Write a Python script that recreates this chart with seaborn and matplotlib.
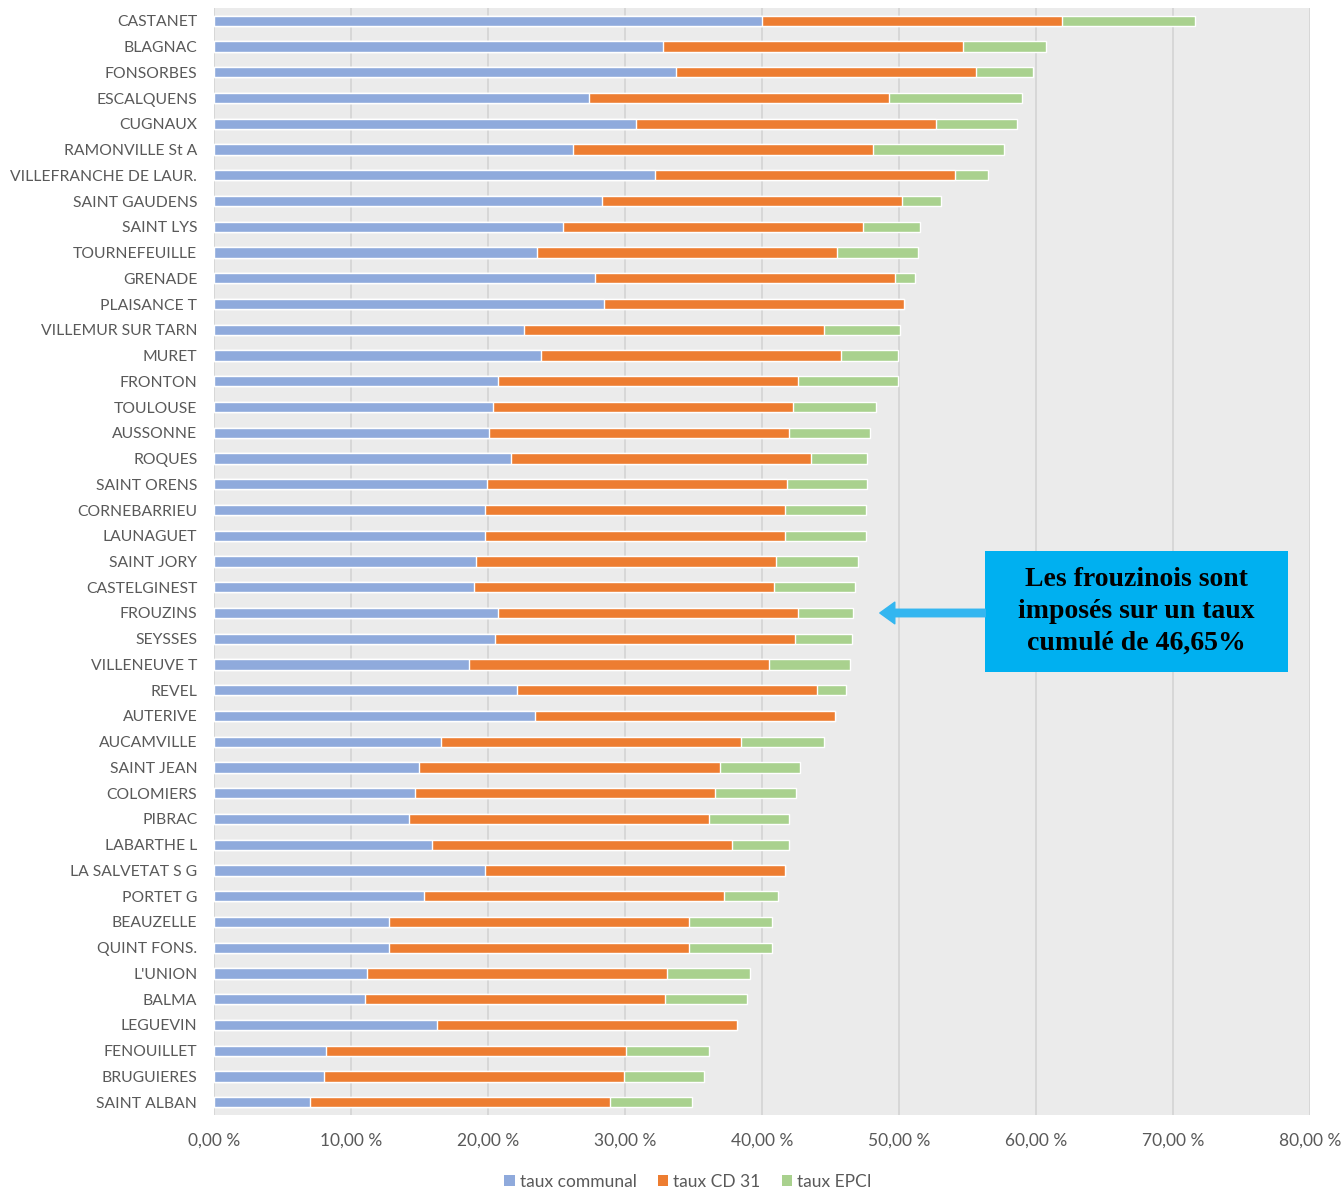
import matplotlib
matplotlib.use("Agg")
import matplotlib.pyplot as plt
import seaborn as sns
import pandas as pd
import numpy as np
from matplotlib.patches import Rectangle, Patch
from matplotlib.ticker import FuncFormatter

communes = ["CASTANET", "BLAGNAC", "FONSORBES", "ESCALQUENS", "CUGNAUX", "RAMONVILLE St A",
            "VILLEFRANCHE DE LAUR.", "SAINT GAUDENS", "SAINT LYS", "TOURNEFEUILLE", "GRENADE",
            "PLAISANCE T", "VILLEMUR SUR TARN", "MURET", "FRONTON", "TOULOUSE", "AUSSONNE",
            "ROQUES", "SAINT ORENS", "CORNEBARRIEU", "LAUNAGUET", "SAINT JORY", "CASTELGINEST",
            "FROUZINS", "SEYSSES", "VILLENEUVE T", "REVEL", "AUTERIVE", "AUCAMVILLE",
            "SAINT JEAN", "COLOMIERS", "PIBRAC", "LABARTHE L", "LA SALVETAT S G", "PORTET G",
            "BEAUZELLE", "QUINT FONS.", "L'UNION", "BALMA", "LEGUEVIN", "FENOUILLET",
            "BRUGUIERES", "SAINT ALBAN"]

taux_communal = [40.0, 32.8, 33.7, 27.4, 30.8, 26.2, 32.2, 28.3, 25.5, 23.6, 27.8, 28.5, 22.6,
                 23.9, 20.7, 20.4, 20.1, 21.7, 19.9, 19.8, 19.8, 19.1, 19.0, 20.7, 20.5, 18.6,
                 22.1, 23.4, 16.6, 15.0, 14.7, 14.2, 15.9, 19.8, 15.3, 12.8, 12.8, 11.2, 11.0,
                 16.3, 8.2, 8.0, 7.0]
taux_cd31 = [21.9] * 43
taux_epci = [9.7, 6.0, 4.2, 9.7, 5.9, 9.6, 2.4, 2.9, 4.1, 5.9, 1.5, 0.0, 5.6, 4.1, 7.3, 6.0,
             5.9, 4.1, 5.9, 5.9, 5.9, 6.0, 5.9, 4.05, 4.2, 5.9, 2.1, 0.0, 6.0, 5.9, 5.9, 5.9,
             4.2, 0.0, 4.0, 6.0, 6.0, 6.0, 6.0, 0.0, 6.0, 5.9, 6.0]

series_labels = ["taux communal", "taux CD 31", "taux EPCI"]
colors = ["#8faadc", "#ed7d31", "#a9d18e"]

df = pd.DataFrame({"commune": communes, "communal": taux_communal,
                   "cd31": taux_cd31, "epci": taux_epci})
df["c1"] = df["communal"]
df["c2"] = df["communal"] + df["cd31"]
df["c3"] = df["c2"] + df["epci"]

sns.set_theme(style="white")
plt.rcParams["font.family"] = ["Lato", "DejaVu Sans"]

fig = plt.figure(figsize=(13.44, 11.9), dpi=100)
ax = fig.add_axes([0.1592, 0.063, 0.8155, 0.9303])
ax.set_facecolor("#ebebeb")

for col, c in zip(["c3", "c2", "c1"], colors[::-1]):
    sns.barplot(data=df, x=col, y="commune", orient="h", color=c, width=0.4,
                saturation=1, ax=ax, order=communes, zorder=3)

ax.set_xlim(0, 80)
ax.set_xticks(np.arange(0, 81, 10))
ax.xaxis.set_major_formatter(FuncFormatter(lambda v, p: f"{v:.2f}".replace(".", ",") + " %"))
ax.grid(axis="x", color="#d4d4d4", linewidth=1.2, zorder=0)
ax.set_axisbelow(True)
for s in ax.spines.values():
    s.set_visible(False)
ax.set_xlabel("")
ax.set_ylabel("")
ax.tick_params(axis="x", length=0, colors="#595959", labelsize=12.5, pad=13)
ax.tick_params(axis="y", length=0, colors="#595959", labelsize=11.3, pad=12)

# Annotation box
fr = communes.index("FROUZINS")
ax.add_patch(Rectangle((56.3, fr - 2.41), 22.1, 4.70, facecolor="#00b0f0",
                       edgecolor="none", zorder=5))
ax.text(67.35, fr - 0.06, "Les frouzinois sont\nimposés sur un taux\ncumulé de 46,65%",
        ha="center", va="center", fontsize=20, fontweight="bold",
        family=["Liberation Serif", "DejaVu Serif"], color="black", zorder=6,
        linespacing=1.38)
ax.annotate("", xy=(48.6, fr), xytext=(56.3, fr),
            arrowprops=dict(arrowstyle="simple,head_width=1.3,head_length=0.9,tail_width=0.45",
                            color="#33b6f0", shrinkA=0, shrinkB=0), zorder=6)

handles = [Patch(facecolor=c, edgecolor="none") for c in colors]
fig.legend(handles, series_labels, loc="center", ncol=3,
           frameon=False, fontsize=12.5, handlelength=0.6, handleheight=0.6,
           handletextpad=0.3, columnspacing=1.2, labelcolor="#595959")
fig.legends[0].set_bbox_to_anchor((0.512, 0.007), transform=fig.transFigure)

fig.savefig("out.png", dpi=100)
